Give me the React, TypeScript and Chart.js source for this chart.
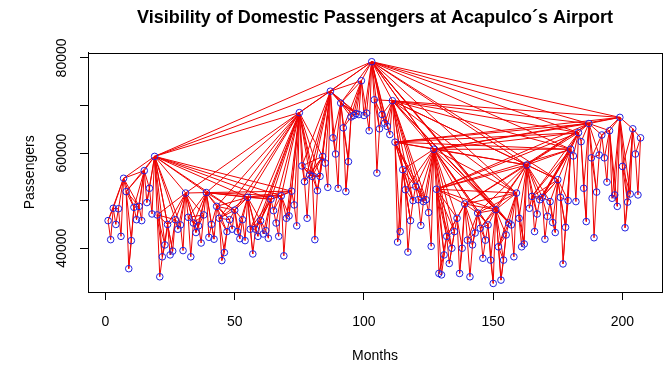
import React, { useEffect, useRef } from 'react';
import { Chart, registerables } from 'chart.js';

Chart.register(...registerables);

// Monthly domestic passengers
const passengers: number[] = [
  45800, 41800, 48400, 45000, 48300, 42500, 54700, 51900, 35700, 41600, 48600, 46000,
  48800, 45800, 56300, 49600, 52600, 47200, 59300, 47000, 34000, 38200, 40700, 45000,
  38600, 39400, 46000, 44000, 44900, 39500, 51600, 46500, 38200, 45300, 43300, 44700,
  41100, 47000, 51700, 42300, 45000, 41900, 48800, 46300, 37400, 39100, 43500, 46000,
  44000, 48000, 43500, 42000, 46000, 41600, 50700, 44000, 38800, 44000, 42500, 45800,
  43000, 43700, 42100, 50300, 47900, 45300, 42500, 51000, 38400, 46300, 46800, 52000,
  49100, 44700, 68500, 57300, 54000, 46300, 55400, 55100, 41800, 52100, 55100, 59300,
  57900, 52800, 73000, 63200, 59800, 52600, 70500, 65300, 51900, 58200, 67600, 67900,
  68300, 68100, 75200, 67900, 68400, 64700, 79200, 71200, 55800, 65100, 68100, 66300,
  65600, 63900, 71000, 62300, 41300, 43500, 56500, 52300, 39200, 45800, 50000, 53000,
  50200, 44800, 49800, 50200, 47500, 40400, 60800, 52400, 34700, 34400, 38600, 42500,
  36800, 40000, 43500, 46300, 34700, 40000, 49300, 41700, 34000, 40700, 43200, 47400,
  44200, 37900, 41700, 44900, 37500, 32600, 48100, 40300, 33300, 37500, 42800, 45300,
  44900, 38200, 51600, 46300, 40300, 40900, 57500, 48400, 50900, 43500, 47200, 50200,
  50700, 41900, 46700, 49800, 45400, 43300, 54400, 50700, 36700, 44400, 50000, 60800,
  59400, 49800, 64300, 62400, 52600, 45600, 66200, 59000, 42200, 51800, 59600, 63800,
  59000, 53900, 64700, 50500, 51200, 48800, 67500, 57200, 44300, 49700, 51400, 65100,
  59800, 51200, 63200,
];

// Month index (1..N)
const months: number[] = passengers.map((_, i) => i + 1);

const xTicks: number[] = [0, 50, 100, 150, 200];
const yTicks: number[] = [40000, 50000, 60000, 70000, 80000];
const yTickLabels: string[] = ['40000', '', '60000', '', '80000'];

const TITLE = 'Visibility of Domestic Passengers at Acapulco´s Airport';
const X_TITLE = 'Months';
const Y_TITLE = 'Passengers';
const FONT = "'Liberation Sans', Arial, sans-serif";

// Natural visibility graph edges
function visibilityEdges(xs: number[], ys: number[]): [number, number][] {
  const n = xs.length;
  const edges: [number, number][] = [];
  for (let i = 0; i < n; i++) {
    for (let j = i + 1; j < n; j++) {
      let ok = true;
      for (let k = i + 1; k < j; k++) {
        const yl = ys[j] + (ys[i] - ys[j]) * (xs[j] - xs[k]) / (xs[j] - xs[i]);
        if (ys[k] >= yl) { ok = false; break; }
      }
      if (ok) edges.push([i, j]);
    }
  }
  return edges;
}

export default function App() {
  const ref = useRef<HTMLCanvasElement>(null);

  useEffect(() => {
    const canvas = ref.current;
    if (!canvas) return;
    const edges = visibilityEdges(months, passengers);
    const edgeData: { x: number; y: number | null }[] = [];
    for (const [i, j] of edges) {
      edgeData.push({ x: months[i], y: passengers[i] });
      edgeData.push({ x: months[j], y: passengers[j] });
      edgeData.push({ x: months[j], y: null });
    }
    const pointData = months.map((m, i) => ({ x: m, y: passengers[i] }));

    const boxPlugin = {
      id: 'rbox',
      afterDraw(chart: any) {
        const { ctx, chartArea: a } = chart;
        ctx.save();
        ctx.strokeStyle = '#000';
        ctx.lineWidth = 1;
        const l = Math.round(a.left) + 0.5;
        const t = Math.round(a.top) + 0.5;
        const r = Math.round(a.right) + 0.5;
        const b = Math.round(a.bottom) + 0.5;
        ctx.strokeRect(l, t, r - l, b - t);
        ctx.restore();
      },
    };

    const chart = new Chart(canvas, {
      type: 'line',
      data: {
        datasets: [
          {
            label: 'points',
            data: pointData,
            showLine: false,
            pointRadius: 3.3,
            pointHoverRadius: 3.3,
            pointBorderColor: '#2020e0',
            pointBackgroundColor: 'rgba(0,0,0,0)',
            pointBorderWidth: 1,
            order: 0,
          } as any,
          {
            label: 'edges',
            data: edgeData as any,
            borderColor: '#ee0000',
            borderWidth: 1,
            pointRadius: 0,
            spanGaps: false,
            tension: 0,
            order: 1,
          } as any,
        ],
      },
      options: {
        responsive: false,
        maintainAspectRatio: false,
        animation: false,
        devicePixelRatio: 1,
        layout: { padding: { left: 0, right: 8, top: 0, bottom: 0 } },
        plugins: {
          legend: { display: false },
          tooltip: { enabled: false },
          title: {
            display: true,
            text: TITLE,
            fullSize: false,
            color: '#000',
            font: { family: FONT, size: 18, weight: 'bold' },
            padding: { top: 7, bottom: 24 },
          } as any,
        },
        scales: {
          x: {
            type: 'linear',
            position: 'bottom',
            min: -6.77,
            max: 215.3,
            afterBuildTicks: (s: any) => { s.ticks = xTicks.map((v) => ({ value: v })); },
            afterFit: (s: any) => { s.height = 73; },
            grid: { display: true, drawOnChartArea: false, drawTicks: true, tickLength: 8, color: '#000', lineWidth: 1 },
            border: { display: true, color: '#000', width: 1 },
            ticks: {
              color: '#000',
              font: { family: FONT, size: 14 },
              padding: 14,
              autoSkip: false,
              maxRotation: 0,
              minRotation: 0,
              callback: (v: any) => String(v),
            },
            title: {
              display: true,
              text: X_TITLE,
              color: '#000',
              font: { family: FONT, size: 14 },
              padding: { top: 0, bottom: 0 },
            },
          } as any,
          y: {
            type: 'linear',
            min: 30800,
            max: 81116,
            afterBuildTicks: (s: any) => { s.ticks = yTicks.map((v) => ({ value: v })); },
            afterFit: (s: any) => { s.width = 88; },
            grid: { display: true, drawOnChartArea: false, drawTicks: true, tickLength: 8, color: '#000', lineWidth: 1 },
            border: { display: true, color: '#000', width: 1 },
            ticks: {
              color: '#000',
              font: { family: FONT, size: 14 },
              padding: -2,
              autoSkip: false,
              minRotation: 90,
              maxRotation: 90,
              crossAlign: 'center',
              callback: (v: any) => {
                const idx = yTicks.indexOf(Number(v));
                return idx >= 0 ? yTickLabels[idx] : '';
              },
            },
            title: {
              display: true,
              text: Y_TITLE,
              color: '#000',
              font: { family: FONT, size: 14 },
              padding: { top: 22, bottom: 0 },
            },
          } as any,
        },
      },
      plugins: [boxPlugin],
    });
    return () => chart.destroy();
  }, []);

  return (
    <div style={{ position: 'fixed', left: 0, top: 0, width: 670, height: 365, background: '#fff' }}>
      <canvas ref={ref} width={670} height={365} style={{ display: 'block', width: 670, height: 365 }} />
    </div>
  );
}
